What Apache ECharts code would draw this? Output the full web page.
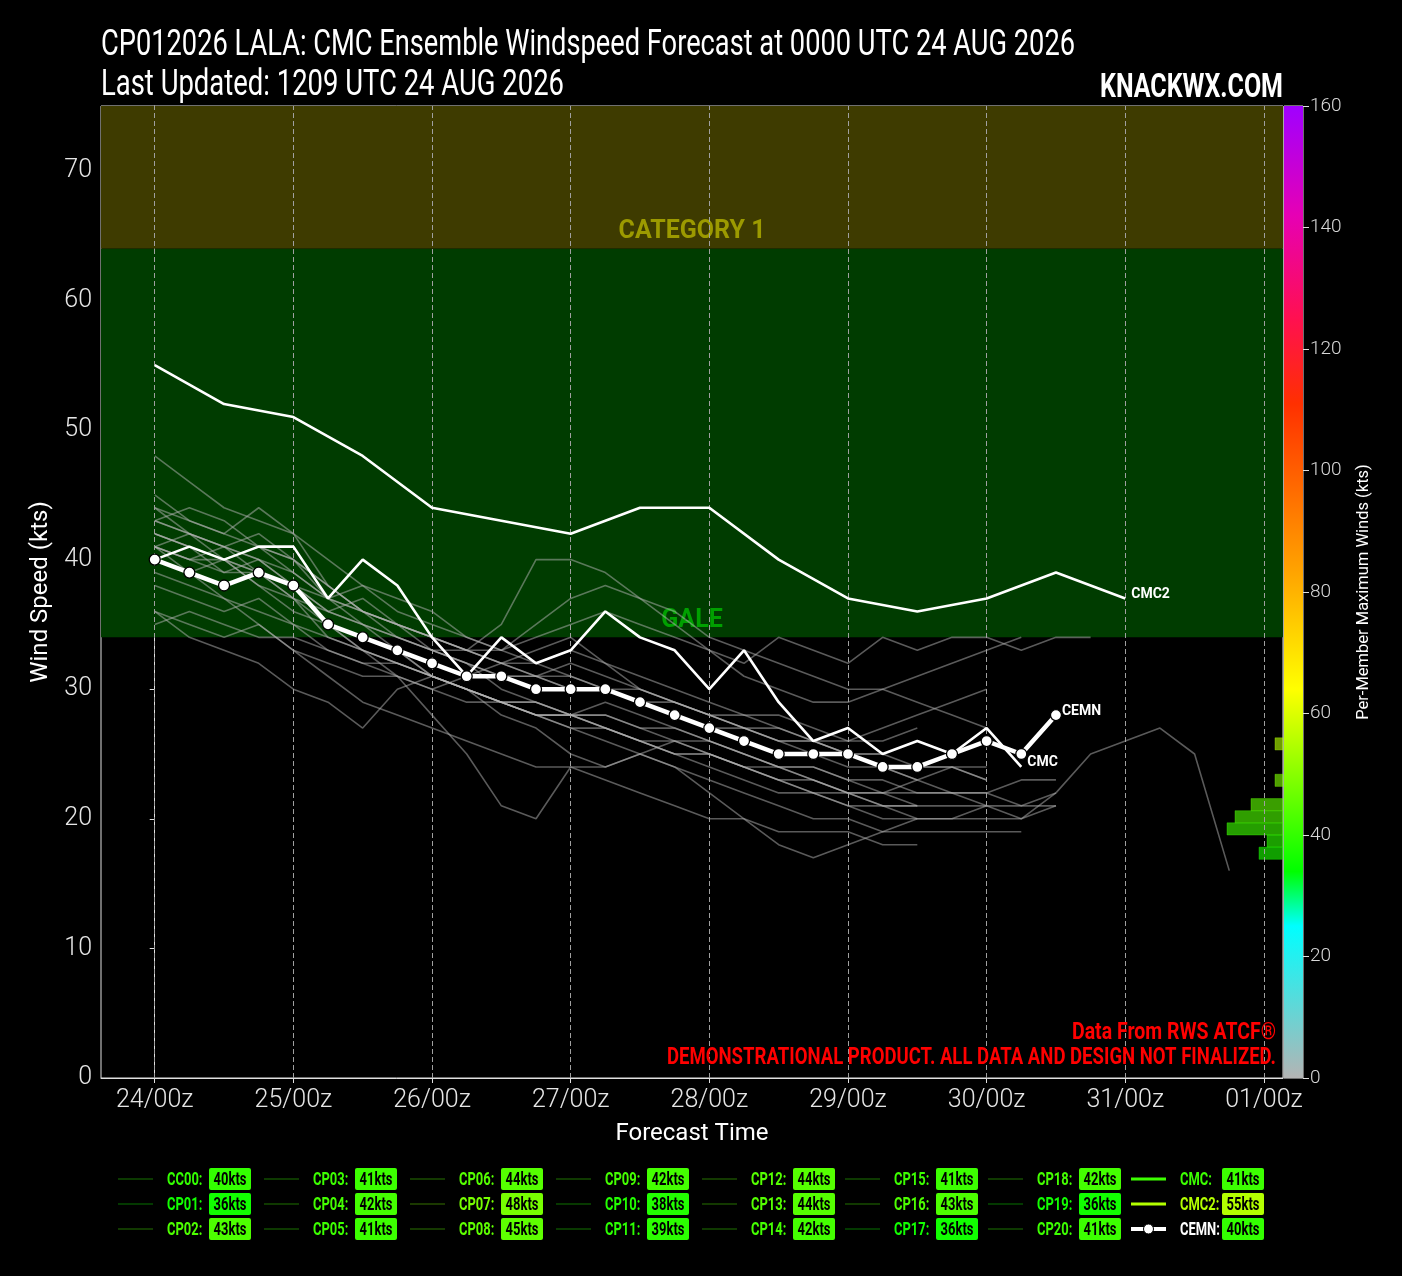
<!DOCTYPE html>
<html>
<head>
<meta charset="utf-8">
<script src="https://cdn.jsdelivr.net/npm/echarts@6/dist/echarts.min.js"></script>
<style>
html,body{margin:0;padding:0;background:#000;}
#chart{width:1402px;height:1276px;}
</style>
</head>
<body>
<div id="chart"></div>
<script>
// ---------------- DATA ----------------
const stepHours = 6;
const memberNames = ['CC00','CP01','CP02','CP03','CP04','CP05','CP06','CP07','CP08','CP09','CP10',
  'CP11','CP12','CP13','CP14','CP15','CP16','CP17','CP18','CP19','CP20'];
const memberMax = [40,36,43,41,42,41,44,48,45,42,38,39,44,44,42,41,43,36,42,36,41];
const CC00 = [40,39,40,38,37,36,35,34,33,33,32,31,30,30,29,28,27,27,26,25,25,24,23];
const CP01 = [36,35,34,35,33,32,31,31,30,29,29,28,28,27,26,26,25,24,24,23,22,22,21,21,21,20,22,25,26,27,25,16];
const CP02 = [43,42,41,42,40,38,36,35,33,32,30,29,28,29,28,27,26,25,24,24,23,22,22,22,22,23,23];
const CP03 = [41,40,41,39,38,36,37,35,34,33,32,32,33,32,31,30,29,28,28,27,26,26,27];
const CP04 = [42,41,40,41,39,37,36,35,34,33,33,34,35,36,35,34,33,32,34,33,32,34,33,34,34,33,34,34];
const CP05 = [41,39,37,35,33,31,29,28,27,26,25,24,24,23,22,21,20,20,19,19,19,18,18];
const CP06 = [44,43,42,44,42,38,36,35,34,33,35,40,40,39,37,35,33,31,30,29,29,30,29,28,27];
const CP07 = [48,46,44,43,42,40,38,36,35,34,33,32,31,30,29,28,27,26,25,25,24,24,23,22,22,21,21];
const CP08 = [45,43,42,41,40,37,35,33,31,30,29,28,27,26,25,24,22,20,18,17,18,19,20,20,21];
const CP09 = [42,41,40,38,36,35,33,31,28,25,21,20,24,24,25,24,23,22,21,20,20,19,19,19,19,19];
const CP10 = [38,37,36,37,35,34,33,32,31,30,29,28,27,27,26,25,24,23,22,22,21,21,21];
const CP11 = [39,38,37,36,35,33,32,31,30,31,32,33,34,32,30,29,28,27,27,26,26,27,28,29,30];
const CP12 = [44,42,41,40,39,37,38,37,36,34,33,35,37,38,37,36,34,33,32,31,30,30,31,32,33,34];
const CP13 = [43,44,43,41,40,38,36,34,33,32,31,31,30,30,29,29,28,27,26,26,25,25,24,24,23];
const CP14 = [42,41,39,40,38,35,33,32,31,30,29,28,28,28,27,27,26,25,24,23,22,21,20,20,20,20,21];
const CP15 = [41,40,39,39,37,35,34,33,31,30,28,27,25,24,25,26,25,24,23,22,21,20,20];
const CP16 = [43,42,41,40,38,37,36,35,34,33,32,31,31,30,30,29,28,27,26,26,25,24,24,24,23];
const CP17 = [36,34,33,32,30,29,27,30,31,30,29,28,28,27,26,25,25,24,23,22,22,21,21];
const CP18 = [41,42,40,39,37,34,33,32,31,30,29,29,28,28,27,26,26,25,24,24,23,23,22,22,21,21,22];
const CP19 = [35,36,35,34,34,33,32,32,31,30,29,29,28,27,26,25,25,24,23,23,22,22,23,24,24];
const CP20 = [41,40,40,39,38,36,35,34,33,32,31,31,32,31,30,29,28,28,27,26,25,25];
const memberValues = [CC00,CP01,CP02,CP03,CP04,CP05,CP06,CP07,CP08,CP09,CP10,CP11,CP12,CP13,CP14,CP15,CP16,CP17,CP18,CP19,CP20];

const CMC  = [40,41,40,41,41,37,40,38,34,31,34,32,33,36,34,33,30,33,29,26,27,25,26,25,27,24];
const CMC2_hours = [0,12,24,36,48,60,72,84,96,108,120,132,144,156,168];
const CMC2 = [55,52,51,48,44,43,42,44,44,40,37,36,37,39,37];
const CEMN = [40,39,38,39,38,35,34,33,32,31,31,30,30,30,29,28,27,26,25,25,25,24,24,25,26,25,28];
const cmcMax = 41, cmc2Max = 55, cemnMax = 40;

const xTickHours = [0,24,48,72,96,120,144,168,192];
const xTickLabels = ['24/00z','25/00z','26/00z','27/00z','28/00z','29/00z','30/00z','31/00z','01/00z'];
const galeBand = [34,64];
const cat1Band = [64,75];

const titleLine1 = 'CP012026 LALA: CMC Ensemble Windspeed Forecast at 0000 UTC 24 AUG 2026';
const titleLine2 = 'Last Updated: 1209 UTC 24 AUG 2026';
const brandText = 'KNACKWX.COM';
const creditText = 'Data From RWS ATCF®';
const disclaimerText = 'DEMONSTRATIONAL PRODUCT. ALL DATA AND DESIGN NOT FINALIZED.';

// ---------------- STYLE HELPERS ----------------
const FONT = 'Roboto, "Liberation Sans", sans-serif';
const cmapStops = [
  [0,[180,180,180]],[25,[0,255,255]],[34,[0,255,0]],[64,[255,255,0]],[83,[255,165,0]],
  [111,[255,48,0]],[125,[255,16,80]],[142,[230,0,180]],[160,[160,0,255]]
];
function cmapRGB(v){
  for(let i=0;i<cmapStops.length-1;i++){
    const a=cmapStops[i],b=cmapStops[i+1];
    if(v<=b[0]){const t=(v-a[0])/(b[0]-a[0]);return a[1].map((c,k)=>Math.round(c+(b[1][k]-c)*t));}
  }
  return cmapStops[cmapStops.length-1][1];
}
function cmap(v,alpha){const c=cmapRGB(v);return alpha==null?`rgb(${c.join(',')})`:`rgba(${c.join(',')},${alpha})`;}

const measureCtx = document.createElement('canvas').getContext('2d');
function fitScale(text, font, target){ measureCtx.font = font; return target / measureCtx.measureText(text).width; }
function squeezed(text, font, x, y, targetW, fill, align){
  return {type:'text', x:x, y:y, scaleX:fitScale(text,font,targetW), scaleY:1, silent:true, z:50,
    style:{text:text, font:font, fill:fill, textAlign:align||'left', textVerticalAlign:'middle'}};
}

const toPairs = (arr, step) => arr.map((v,i)=>[i*step, v]);

// histogram of per-member maxima (2-kt bins)
const allMax = memberMax.concat([cmcMax, cmc2Max, cemnMax]);
const binCounts = {};
allMax.forEach(v=>{const lo=Math.floor(v/2)*2; binCounts[lo]=(binCounts[lo]||0)+1;});
const histData = Object.keys(binCounts).map(k=>[+k, +k+2, binCounts[k]]);

// ---------------- CHART ----------------
const chart = echarts.init(document.getElementById('chart'), null, {renderer:'canvas'});

const series = [];
series.push({
  type:'line', xAxisIndex:0, yAxisIndex:0, data:[], silent:true, z:1,
  markArea:{
    silent:true,
    data:[
      [{yAxis:galeBand[0], itemStyle:{color:'#003c00'},
        label:{show:true, position:'insideBottom', distance:4, formatter:'GALE', color:'#00a000',
               fontFamily:FONT, fontWeight:'bold', fontSize:25}},
       {yAxis:galeBand[1]}],
      [{yAxis:cat1Band[0], itemStyle:{color:'#3e3b00'},
        label:{show:true, position:'insideBottom', distance:4, formatter:'CATEGORY 1', color:'#9c9a00',
               fontFamily:FONT, fontWeight:'bold', fontSize:25}},
       {yAxis:cat1Band[1]}]
    ]
  },
  markLine:{
    silent:true, symbol:'none', label:{show:false},
    lineStyle:{color:'#a0a0a0', type:[5,3], width:1},
    data: xTickHours.map(h=>({xAxis:h}))
  }
});

memberValues.forEach((arr,i)=>{
  series.push({
    name: memberNames[i], type:'line', xAxisIndex:0, yAxisIndex:0, z:3,
    data: toPairs(arr, stepHours), symbol:'none', silent:true,
    lineStyle:{color:'rgba(180,180,180,0.5)', width:1.6}
  });
});

const endLbl = (dx,dy)=>({show:true, formatter:'{a}', color:'#fff', fontFamily:FONT, fontWeight:'bold',
  fontSize:14, offset:[dx,dy], distance:4});

series.push({
  name:'CMC2', type:'line', xAxisIndex:0, yAxisIndex:0, z:5,
  data: CMC2_hours.map((h,i)=>[h, CMC2[i]]), symbol:'none', silent:true,
  lineStyle:{color:'#fff', width:2.6}, endLabel:endLbl(2,-4)
});
series.push({
  name:'CMC', type:'line', xAxisIndex:0, yAxisIndex:0, z:5,
  data: toPairs(CMC, stepHours), symbol:'none', silent:true,
  lineStyle:{color:'#fff', width:2.6}, endLabel:endLbl(2,-4)
});
series.push({
  name:'CEMN', type:'line', xAxisIndex:0, yAxisIndex:0, z:6,
  data: toPairs(CEMN, stepHours), symbol:'circle', symbolSize:11, showAllSymbol:true, silent:true,
  lineStyle:{color:'#fff', width:4.5},
  itemStyle:{color:'#fff', borderColor:'#000', borderWidth:1.3},
  endLabel:endLbl(2,-4)
});

// colorbar
series.push({
  type:'bar', xAxisIndex:1, yAxisIndex:1, data:[160], barWidth:'100%', silent:true, z:2,
  itemStyle:{color:{type:'linear', x:0, y:1, x2:0, y2:0,
    colorStops: cmapStops.map(s=>({offset:s[0]/160, color:`rgb(${s[1].join(',')})`}))}}
});

// histogram of maxima drawn on colorbar scale
series.push({
  type:'custom', xAxisIndex:2, yAxisIndex:2, data: histData, silent:true, z:4,
  renderItem:(params, api)=>{
    const lo=api.value(0), hi=api.value(1), c=api.value(2);
    const pTop=api.coord([0,hi]), pBot=api.coord([c,lo]);
    return {type:'rect', shape:{x:pBot[0], y:pTop[1], width:pTop[0]-pBot[0], height:pBot[1]-pTop[1]},
      style:{fill:cmap((lo+hi)/2,0.62), stroke:cmap((lo+hi)/2,0.35), lineWidth:1}};
  }
});

// legend as graphics
const legendItems = memberNames.map((n,i)=>({name:n, max:memberMax[i], kind:'member'}))
  .concat([{name:'CMC', max:cmcMax, kind:'cmc'},{name:'CMC2', max:cmc2Max, kind:'cmc2'},{name:'CEMN', max:cemnMax, kind:'cemn'}]);
const legendGraphics = [];
const colX = [167,313,459,605,751,894,1037,1180];
const rowY = [1179,1204,1229];
const LFONT = `bold 18px ${FONT}`;
const lblScale = 0.72;
legendItems.forEach((it,idx)=>{
  const col=Math.floor(idx/3), row=idx%3;
  const x=colX[col], y=rowY[row];
  let lineColor, lw=1.5;
  if(it.kind==='member'){lineColor=cmap(it.max,0.3);}
  else if(it.kind==='cmc'){lineColor=cmap(it.max); lw=3;}
  else if(it.kind==='cmc2'){lineColor=cmap(it.max); lw=3;}
  else {lineColor='#fff'; lw=4;}
  legendGraphics.push({type:'line', shape:{x1:x-49,y1:y,x2:x-14,y2:y}, style:{stroke:lineColor, lineWidth:lw}, silent:true});
  if(it.kind==='cemn'){
    legendGraphics.push({type:'circle', shape:{cx:x-31.5,cy:y,r:5}, style:{fill:'#fff', stroke:'#000', lineWidth:1}, silent:true});
  }
  const txtColor = it.kind==='cemn' ? '#fff' : cmap(it.max);
  legendGraphics.push({type:'text', x:x, y:y+1, scaleX:lblScale, style:{text:it.name+':', fill:txtColor, font:LFONT,
    textVerticalAlign:'middle', textAlign:'left'}, silent:true});
  const bx = x+42, bw = 42;
  legendGraphics.push({type:'rect', shape:{x:bx, y:y-11, width:bw, height:22, r:2}, style:{fill:cmap(it.max)}, silent:true});
  legendGraphics.push({type:'text', x:bx+bw/2, y:y+1, scaleX:lblScale, style:{text:it.max+'kts', fill:'#000', font:LFONT,
    textVerticalAlign:'middle', textAlign:'center'}, silent:true});
});

const TFONT = `normal 36px ${FONT}`;
const BFONT = `bold 34px ${FONT}`;
const RFONT = `bold 23px ${FONT}`;
const textGraphics = [
  squeezed(titleLine1, TFONT, 101, 46, 974, '#fff', 'left'),
  squeezed(titleLine2, TFONT, 101, 86, 463, '#fff', 'left'),
  squeezed(brandText, BFONT, 1283, 88, 183, '#fff', 'right'),
  squeezed(creditText, RFONT, 1276, 1033, 204, '#ff0000', 'right'),
  squeezed(disclaimerText, RFONT, 1276, 1058, 609, '#ff0000', 'right')
];

const option = {
  backgroundColor:'#000',
  animation:false,
  grid:[
    {left:101, top:106, width:1182, height:972, show:true, borderColor:'#e0e0e0', borderWidth:1, backgroundColor:'transparent'},
    {left:1284, top:106, width:19, height:972, show:true, borderColor:'#e0e0e0', borderWidth:1},
    {left:1083, top:106, width:200, height:972, show:false}
  ],
  xAxis:[
    {type:'value', gridIndex:0, min:-9.3, max:195.3,
     axisLine:{show:true, lineStyle:{color:'#e0e0e0'}},
     axisTick:{show:true, customValues:xTickHours, length:5, lineStyle:{color:'#e0e0e0'}},
     axisLabel:{show:true, customValues:xTickHours, color:'#e6e6e6', fontFamily:FONT, fontWeight:300, fontSize:25, margin:10,
       formatter:(v)=>xTickLabels[xTickHours.indexOf(v)]},
     splitLine:{show:false},
     name:'Forecast Time', nameLocation:'middle', nameGap:44,
     nameTextStyle:{color:'#fff', fontFamily:FONT, fontSize:24}},
    {type:'category', gridIndex:1, data:['cb'], show:false},
    {type:'value', gridIndex:2, min:0, max:25, inverse:true, show:false}
  ],
  yAxis:[
    {type:'value', gridIndex:0, min:0, max:75, interval:10,
     axisLine:{show:true, lineStyle:{color:'#e0e0e0'}},
     axisTick:{show:true, length:5, lineStyle:{color:'#e0e0e0'}},
     axisLabel:{color:'#e6e6e6', fontFamily:FONT, fontWeight:300, fontSize:25, margin:9, showMaxLabel:false},
     splitLine:{show:false},
     name:'Wind Speed (kts)', nameLocation:'middle', nameGap:48, nameRotate:90,
     nameTextStyle:{color:'#fff', fontFamily:FONT, fontSize:24}},
    {type:'value', gridIndex:1, position:'right', min:0, max:160, interval:20,
     axisLine:{show:false},
     axisTick:{show:true, length:6, lineStyle:{color:'#e0e0e0'}},
     axisLabel:{color:'#d8d8d8', fontFamily:FONT, fontWeight:300, fontSize:19, margin:7},
     splitLine:{show:false},
     name:'Per-Member Maximum Winds (kts)', nameLocation:'middle', nameGap:52, nameRotate:90,
     nameTextStyle:{color:'#fff', fontFamily:FONT, fontSize:16.5}},
    {type:'value', gridIndex:2, min:0, max:160, show:false}
  ],
  series: series,
  graphic: legendGraphics.concat(textGraphics)
};
chart.setOption(option);
</script>
</body>
</html>
